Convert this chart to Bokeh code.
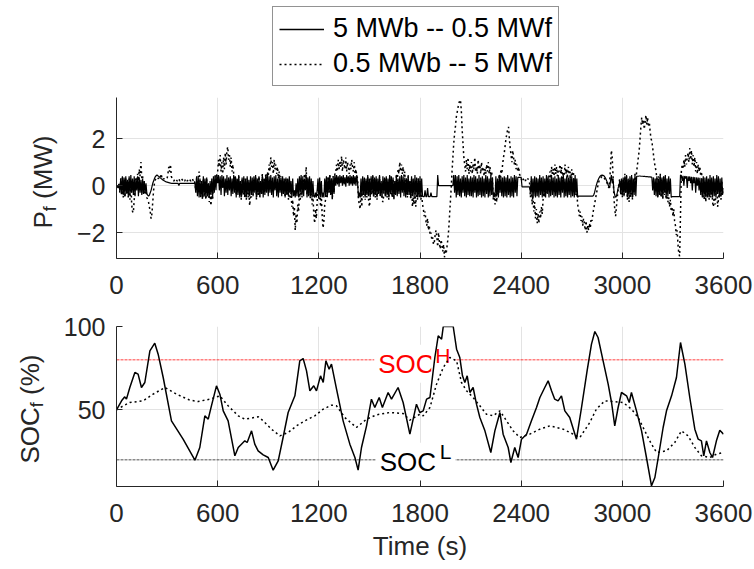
import math
from bokeh.plotting import figure
from bokeh.models import Range1d, FixedTicker, Legend, LegendItem, Label, Span
from bokeh.layouts import column, row
from bokeh.embed import file_html
from bokeh.resources import INLINE

# ---------------- data ----------------
time_s = list(range(0, 3601, 5))

# P_f (MW), battery "5 MWb -- 0.5 MWf" (solid)
pf_5mwb = [
    0, -0.05, -0.1, 0.05, -0.25, 0.3, -0.35, 0.4, -0.4, 0.35, -0.45, 0.4, -0.3, 0.25, -0.45, 0.4, -0.35, 0.45, -0.3, 0.3,
    -0.4, 0.4, -0.45, 0.3, -0.2, 0.4, -0.45, 0.35, -0.3, 0.25, -0.4, 0.3, -0.35, 0.2, -0.3, 0.1, -0.35, -0.4, -0.45, -0.4,
    -0.3, -0.2, -0.05, 0.1, 0.2, 0.3, 0.38, 0.42, 0.45, 0.42, 0.4, 0.37, 0.33, 0.3, 0.27, 0.24, 0.22, 0.2, 0.18, 0.16,
    0.15, 0.14, 0.13, 0.12, 0.11, 0.1, 0.1, 0.1, 0.1, 0.1, 0.1, 0.1, 0.1, 0.1, 0.0, 0.1, 0.1, 0.1, 0.1, 0.1,
    0.1, 0.1, 0.1, 0.1, 0.1, 0.1, 0.1, 0.1, 0.1, 0.1, 0.1, 0.1, 0.1, 0.1, -0.3, 0.4, -0.45, 0.35, -0.5, 0.3,
    -0.45, 0.2, -0.5, 0.4, -0.4, 0.3, -0.5, 0.35, -0.45, 0.1, -0.5, 0.2, -0.4, 0.3, -0.5, 0.4, -0.3, 0.45, -0.2, 0.45,
    0.1, 0.45, -0.2, 0.4, -0.4, 0.45, -0.1, 0.4, -0.45, 0.3, -0.3, 0.45, -0.4, 0.35, -0.2, 0.4, -0.45, 0.3, -0.35, 0.45,
    -0.3, 0.4, -0.5, 0.3, -0.4, 0.45, -0.45, 0.2, -0.5, 0.35, -0.3, 0.4, -0.45, 0.3, -0.5, 0.4, -0.35, 0.25, -0.45, 0.4,
    -0.4, 0.35, -0.45, 0.4, -0.3, 0.45, -0.5, 0.3, -0.4, 0.4, -0.45, 0.2, -0.35, 0.45, -0.5, 0.3, -0.4, 0.4, -0.3, 0.45,
    -0.45, 0.4, -0.3, 0.45, -0.4, 0.35, -0.5, 0.4, -0.2, 0.45, -0.45, 0.3, -0.5, 0.4, -0.3, 0.35, -0.45, 0.4, -0.35, 0.3,
    -0.5, 0.35, -0.4, 0.3, -0.45, 0.4, -0.3, 0.2, -0.5, 0.3, -0.45, -0.2, -0.5, 0.1, -0.45, 0.3, -0.5, 0.4, -0.3, 0.45,
    -0.4, 0.4, -0.45, 0.3, -0.2, 0.45, -0.5, 0.35, -0.4, 0.4, -0.45, 0.3, -0.5, 0.2, -0.45, -0.5, -0.3, -0.5, -0.2, 0.3,
    -0.45, 0.35, -0.5, 0.2, -0.5, -0.3, -0.5, 0.3, -0.4, 0.4, -0.45, 0.35, -0.3, 0.45, -0.4, 0.3, -0.5, 0.4, -0.35, 0.45,
    0.0, 0.45, 0.05, 0.4, -0.05, 0.45, 0.1, 0.4, 0.0, 0.45, 0.05, 0.35, -0.05, 0.45, 0.1, 0.4, 0.0, 0.45, 0.05, 0.4,
    0.0, 0.45, 0.05, 0.4, 0.0, 0.45, 0.1, -0.5, -0.3, -0.5, 0.3, -0.45, 0.4, -0.4, 0.35, -0.5, 0.3, -0.4, 0.45, -0.45,
    0.3, -0.5, 0.4, -0.3, 0.45, -0.45, 0.35, -0.4, 0.4, -0.5, 0.3, -0.35, 0.45, -0.45, 0.2, -0.5, 0.4, -0.3, 0.35, -0.45,
    0.4, -0.4, 0.3, -0.5, 0.45, -0.3, 0.4, -0.45, 0.35, -0.5, 0.2, -0.4, 0.45, -0.45, 0.3, -0.35, 0.4, -0.5, 0.45, -0.3,
    0.4, -0.45, 0.35, -0.5, 0.3, -0.4, 0.45, -0.35, 0.2, -0.5, 0.4, -0.45, 0.3, -0.5, 0.45, -0.4, 0.35, -0.5, 0.3, -0.45,
    0.4, -0.5, 0.3, -0.45, -0.47, -0.47, -0.2, -0.47, -0.47, -0.1, -0.47, -0.47, -0.47, -0.3, -0.47, -0.47, -0.47, -0.47, -0.47, -0.47,
    -0.47, 0.45, 0, 0, 0, 0, 0, 0, 0, 0, 0, 0, 0, 0, 0, 0, 0, 0, 0, 0,
    0.45, -0.3, 0.45, -0.5, 0.4, -0.4, 0.45, -0.45, 0.3, -0.5, 0.4, -0.3, 0.45, -0.45, 0.35, -0.5, 0.45, -0.4, 0.3, -0.45,
    0.4, -0.45, 0.35, -0.5, 0.45, -0.3, 0.4, -0.5, 0.3, -0.45, 0.45, -0.4, 0.35, -0.5, 0.4, -0.45, 0.3, -0.5, 0.45, -0.35,
    0.4, -0.5, 0.3, -0.45, 0.45, -0.4, 0.35, -0.5, -0.3, -0.5, 0.4, -0.45, 0.3, -0.5, 0.45, -0.3, 0.4, -0.45, 0.35, -0.5,
    0.4, -0.45, 0.35, -0.5, 0.45, -0.4, 0.3, -0.5, 0.4, -0.45, 0.35, -0.5, 0.45, -0.3, 0.4, -0.45, 0.35, 0.35, 0.35, 0.35,
    0.35, -0.05, -0.05, -0.05, -0.05, -0.05, -0.05, -0.05, -0.05, -0.05, -0.05, -0.3, 0.4, -0.5, 0.3, -0.45, 0.4, -0.5, 0.35, -0.45,
    0.3, -0.5, 0.45, -0.4, 0.35, -0.5, 0.4, -0.45, 0.3, -0.5, 0.45, -0.35, 0.4, -0.5, 0.3, -0.45, 0.45, -0.4, 0.35, -0.5,
    0.4, -0.45, 0.3, -0.5, 0.45, -0.4, 0.35, -0.5, 0.4, -0.3, 0.45, -0.5, 0.3, -0.45, 0.4, -0.5, 0.35, -0.4, 0.45, -0.5,
    0.4, -0.45, 0.3, -0.5, 0.45, -0.4, 0.3, -0.5, -0.45, -0.45, -0.45, -0.45, -0.45, -0.45, -0.45, -0.45, -0.45, -0.45, -0.45, -0.45,
    -0.45, -0.45, -0.45, -0.45, -0.45, -0.45, -0.4, -0.3, -0.15, 0.0, 0.12, 0.22, 0.3, 0.37, 0.41, 0.44, 0.45, 0.44, 0.42, 0.38,
    0.32, 0.24, 0.15, 0.05, -0.05, -0.1, 0.2, 0.45, 0.1, 0.3, -0.2, -0.4, -0.5, -0.45, -0.3, -0.1, 0.0, 0.2, -0.3, 0.3,
    -0.4, 0.35, -0.45, 0.4, -0.3, 0.45, -0.5, 0.3, -0.45, 0.4, -0.35, 0.45, -0.5, 0.3, -0.4, 0.45, -0.45, 0.4, 0.4, 0.4,
    0.41, 0.41, 0.4, 0.4, 0.4, 0.39, 0.39, 0.39, 0.38, 0.38, 0.38, 0.37, 0.37, 0.37, 0.36, 0.36, -0.2, 0.35, -0.4, 0.3,
    -0.45, 0.4, -0.5, 0.3, -0.4, 0.45, -0.45, 0.35, -0.5, 0.4, -0.3, 0.45, -0.5, 0.3, -0.45, 0.4, -0.35, 0.3, -0.5, -0.47,
    -0.47, -0.47, -0.47, -0.47, -0.47, -0.47, -0.47, -0.47, -0.47, 0.45, 0.43, 0.2, 0.42, 0.0, 0.41, 0.3, 0.4, -0.1, 0.4, 0.2,
    0.39, 0.1, 0.38, -0.2, 0.37, 0.1, 0.36, -0.3, 0.35, 0.0, 0.34, -0.2, 0.33, -0.4, 0.3, -0.5, 0.4, -0.45, 0.35, -0.5,
    0.4, -0.45, 0.3, -0.5, 0.45, -0.4, 0.35, -0.5, 0.4, -0.45, 0.3, -0.5, 0.45, -0.35, 0.4, -0.5, 0.3, -0.45, 0.35, -0.4,
    -0.1,
]

# P_f (MW), battery "0.5 MWb -- 5 MWf" (dotted)
pf_05mwb = [
    0, -0.05, -0.1, 0.1, -0.3, 0.3, -0.4, 0.35, -0.5, 0.3, -0.5, 0.3, -0.35, 0.2, -0.5, 0.3, -0.6, 0.2, -0.8, -1.1,
    -1.15, -0.6, -0.2, 0.3, 0.1, 0.5, 0.2, 0.7, 0.4, 1.0, 0.3, 0.4, -0.3, -0.2, -0.4, -0.1, -0.5, -0.6, -0.7, -0.9,
    -1.1, -1.4, -1.2, -0.7, -0.2, 0.1, 0.25, 0.3, 0.35, 0.3, 0.32, 0.3, 0.28, 0.5, 0.3, 0.25, 0.3, 0.28, 0.3, 0.3,
    0.3, 0.5, 0.8, 0.6, 0.9, 0.4, 0.3, 0.25, 0.2, 0.25, 0.3, 0.25, 0.2, 0.25, 0.3, 0.2, 0.25, 0.3, 0.25, 0.2,
    0.25, 0.2, 0.3, 0.25, 0.2, 0.25, 0.3, 0.25, 0.2, 0.25, 0.3, 0.2, 0.25, 0.1, -0.2, 0.3, -0.3, 0.4, 0.6, 0.2,
    -0.5, 0.1, -0.6, 0.3, -0.5, 0.2, -0.6, 0.3, -0.5, 0.1, -0.7, -0.3, -0.85, -0.4, -0.6, 0.3, -0.2, 0.4, 0.1, 0.5,
    0.6, 1.1, 0.8, 1.3, 0.6, 1.0, 0.5, 1.2, 0.7, 1.4, 0.9, 1.5, 1.65, 1.1, 1.3, 0.8, 1.2, 0.6, 0.9, 0.5,
    0.2, 0.4, -0.4, 0.3, -0.3, 0.4, -0.5, 0.1, -0.6, 0.3, -0.4, 0.3, -0.5, 0.2, -0.6, 0.3, -0.5, -0.3, -0.85, -0.4,
    -0.5, 0.2, -0.4, 0.3, -0.2, 0.4, -0.6, 0.3, -0.4, 0.4, -0.5, 0.2, -0.3, 0.5, -0.4, 0.3, -0.3, 0.5, 0.2, 0.6,
    0.4, 0.9, 0.6, 1.2, 0.8, 1.0, 0.5, 1.1, 0.7, 0.9, 0.5, 0.8, 0.3, 0.6, 0.2, 0.4, -0.3, 0.3, -0.4, 0.2,
    -0.5, 0.3, -0.4, 0.2, -0.6, 0.3, -0.5, -0.3, -0.9, -0.6, -1.3, -0.9, -1.9, -1.2, -1.6, -0.8, -1.1, -0.3, -0.6, 0.3,
    -0.5, 0.3, 0.1, 0.5, 0.3, 0.8, -0.4, 0.3, -0.5, 0.2, -0.6, 0.1, -0.8, -0.4, -1.2, -1.6, -1.0, -1.4, -0.7, 0.1,
    -0.6, 0.2, -0.9, -0.5, -1.3, -1.8, -1.5, -0.8, -0.6, 0.3, -0.5, 0.4, -0.3, 0.5, -0.4, 0.3, -0.6, 0.4, -0.3, 0.5,
    0.5, 0.9, 0.6, 1.1, 0.7, 1.0, 0.8, 1.25, 0.6, 1.1, 0.9, 0.7, 1.2, 0.6, 1.0, 0.8, 0.5, 0.9, 0.7, 1.1,
    0.8, 0.6, 1.0, 0.5, 0.7, 0.4, 0.3, -0.6, -0.8, -1.0, -0.3, -0.9, 0.2, -0.5, 0.3, -0.6, 0.2, -0.5, 0.4, -0.6,
    -0.9, -0.5, 0.3, -0.4, 0.4, -0.5, 0.3, -0.5, 0.3, -0.6, 0.2, -0.4, 0.4, -0.5, 0.1, -0.6, -0.7, -0.4, 0.3, -0.5,
    0.3, -0.5, 0.2, -0.6, 0.4, -0.4, 0.3, -0.5, 0.3, -0.6, 0.1, -0.4, 0.5, 0.2, 0.7, 0.5, 1.0, 0.6, 0.9, 0.5,
    0.8, 0.4, 0.6, -0.4, 0.3, -0.5, 0.4, -0.4, 0.2, -0.6, 0.3, -0.9, -0.5, -0.8, -0.3, -0.9, 0.2, -0.6, 0.3, -0.5,
    0.2, -0.6, -0.4, -0.8, -1.0, -1.3, -1.1, -1.5, -1.7, -1.4, -1.9, -1.7, -2.1, -2.0, -2.3, -2.2, -2.5, -2.4, -2.1, -1.9,
    -2.2, -2.6, -2.0, -2.4, -2.7, -2.3, -2.5, -2.8, -2.5, -3.05, -2.7, -2.9, -2.6, -2.3, -1.9, -1.3, -0.7, -0.1, 0.6, 1.2,
    1.8, 2.2, 2.5, 2.9, 3.1, 3.3, 3.5, 3.6, 3.65, 3.2, 2.4, 1.8, 1.2, 0.9, 0.6, 1.1, 0.7, 1.2, 0.5, 0.9,
    0.6, 1.0, 0.5, 0.9, 0.7, 1.2, 0.6, 0.8, 0.5, 1.1, 0.7, 0.9, 0.5, 1.0, 0.6, 0.8, 0.4, 0.7, 0.5, 0.9,
    0.6, 1.0, 0.5, 0.8, 0.4, 0.6, 0.2, -0.6, -0.4, -0.8, -0.3, -0.7, 0.2, -0.4, 0.5, 0.3, 0.7, 0.5, 0.9, 1.2,
    1.4, 1.7, 2.0, 2.2, 2.4, 2.5, 2.0, 1.6, 1.3, 1.0, 1.5, 1.2, 0.9, 1.1, 0.7, 0.9, 0.6, 0.8, 0.5, 0.4,
    0.3, 0.2, 0.3, 0.25, 0.3, 0.2, 0.3, 0.25, 0.3, 0.2, 0.1, -0.5, 0.2, -0.8, -0.4, -1.1, -0.7, -1.4, -1.0, -1.6,
    -1.2, -1.6, -1.1, -1.4, -0.9, -1.2, -0.6, -0.3, -0.5, 0.2, -0.3, 0.3, -0.2, 0.4, 0.6, 0.3, 0.8, 0.5, 0.7, 0.4,
    0.9, 0.5, 0.8, 0.4, 0.7, 0.6, 0.9, 0.5, 0.8, 0.3, 0.6, 0.4, 0.9, 0.5, 0.7, 0.3, 0.8, 0.5, 0.6, 0.2,
    0.7, 0.4, 0.6, -0.2, 0.3, -0.4, -0.3, -0.8, -1.0, -1.3, -1.1, -1.5, -1.3, -1.7, -1.4, -1.6, -1.9, -1.5, -2.0, -1.7,
    -1.9, -1.6, -1.8, -1.4, -1.5, -1.2, -1.0, -0.8, -0.6, -0.4, -0.2, 0.0, 0.15, 0.25, 0.3, 0.35, 0.4, 0.4, 0.35, 0.3,
    0.25, 0.2, 0.1, 0.0, -0.1, 0.2, 0.8, 1.5, 1.2, 0.4, -0.5, -1.0, -1.3, -0.9, -0.5, -0.2, 0.1, 0.3, -0.4, 0.2,
    -0.5, 0.3, -0.4, 0.5, -0.3, 0.4, -0.6, 0.2, -0.7, 0.3, -0.5, 0.4, -0.6, 0.3, -0.3, 0.5, 0.2, 0.6, 0.9, 1.2,
    1.5, 2.0, 2.5, 2.9, 2.6, 2.8, 2.4, 2.7, 3.0, 2.6, 2.9, 2.5, 2.7, 2.3, 2.0, 1.9, 1.6, 1.3, 1.0, 0.8,
    0.6, 0.3, -0.5, 0.4, -0.4, 0.5, -0.5, 0.3, -0.6, 0.4, -0.4, 0.3, -0.6, -0.3, -0.7, -0.5, -0.9, -0.6, -1.1, -0.9,
    -1.3, -1.0, -1.5, -1.7, -2.1, -1.9, -2.5, -2.9, -3.0, -1.2, 0.6, 0.9, 0.7, 1.1, 0.8, 1.3, 0.9, 1.2, 1.4, 1.0,
    1.6, 1.1, 1.5, 0.9, 1.3, 0.8, 1.2, 0.6, 1.0, 0.5, 0.9, 0.6, 0.8, 0.4, 0.6, -0.5, 0.3, -0.6, 0.2, -0.7,
    0.3, -0.5, 0.2, -0.6, 0.3, -0.5, 0.2, -0.7, -0.9, -0.5, -0.8, -0.4, 0.2, -0.9, -0.6, -0.3, 0.1, -0.6, 0.2, -0.4,
    -0.2,
]

# SOC_f (%), "5 MWb -- 0.5 MWf" (solid)
soc_5mwb_time = [0, 30, 49, 59, 79, 109, 128, 148, 168, 198, 227, 247, 277, 326, 395, 465, 494, 524, 544, 563,
                 593, 613, 633, 662, 702, 722, 741, 761, 775, 801, 820, 840, 870, 900, 929, 959, 988, 1018, 1058, 1087,
                 1107, 1127, 1147, 1170, 1186, 1210, 1226, 1242, 1261, 1275, 1305, 1344, 1384, 1414, 1433, 1453, 1483, 1512, 1532, 1558,
                 1577, 1611, 1631, 1670, 1700, 1740, 1779, 1799, 1819, 1839, 1859, 1888, 1908, 1928, 1938, 1997, 2017, 2036, 2052, 2066,
                 2080, 2096, 2115, 2135, 2155, 2185, 2220, 2244, 2274, 2293, 2323, 2339, 2362, 2382, 2402, 2432, 2461, 2491, 2511, 2540,
                 2560, 2580, 2599, 2619, 2639, 2659, 2688, 2728, 2758, 2791, 2817, 2837, 2856, 2886, 2916, 2936, 2955, 2975, 2995, 3025,
                 3041, 3054, 3084, 3114, 3143, 3173, 3193, 3213, 3242, 3262, 3292, 3321, 3345, 3371, 3400, 3430, 3450, 3469, 3483, 3499,
                 3519, 3535, 3558, 3578, 3600]
soc_5mwb = [50, 55.4, 57.8, 56.4, 63.4, 72.4, 71.4, 63.4, 66.4, 85.4, 90, 83.4, 69.4, 43.4, 32.4, 19.8, 27.4, 46.4, 44.4, 52.4,
            64.4, 59.4, 49.4, 43.4, 22.4, 27.4, 29.4, 31.4, 30.4, 37.4, 29.4, 25.4, 23, 21.4, 13.8, 19.4, 33.4, 48.4, 58.4, 79.4,
            80.8, 73.4, 61.4, 64.4, 61.4, 70.4, 66.4, 79.4, 74.4, 77.4, 62.4, 43.4, 29.4, 21.4, 13.8, 27.4, 40.4, 56.4, 51.4, 57.4,
            51.4, 60.4, 56.4, 63.4, 54.4, 35.4, 53.4, 48.4, 49.4, 56.4, 57.4, 81.4, 94.4, 92.4, 100, 100, 86.4, 81.4, 70.4, 66.4,
            70.4, 60.4, 63.4, 53.4, 45.4, 37.4, 24.4, 37.4, 48.4, 35.4, 27.4, 18.4, 27.4, 21.4, 32.4, 35.4, 43.4, 51.4, 57.4, 63.4,
            67.4, 61.4, 56.4, 55.4, 58.4, 49.4, 45.4, 32.4, 51.4, 73.4, 89.4, 97, 93.4, 79.4, 65.4, 54.4, 40.4, 51.4, 60.4, 58.4,
            54.4, 60.4, 49.4, 37.4, 21.4, 4.4, 9.4, 21.4, 39.4, 49.4, 58.4, 69.4, 90.4, 77.4, 57.4, 38.4, 32.4, 31.4, 22.4, 31.4,
            24.4, 21.4, 31.4, 37.8, 35.4]

# SOC_f (%), "0.5 MWb -- 5 MWf" (dotted)
soc_05mwb_time = [0, 40, 79, 158, 217, 287, 356, 435, 484, 554, 613, 662, 722, 761, 841, 870, 919, 969, 1018, 1068,
                  1117, 1176, 1226, 1275, 1305, 1354, 1423, 1483, 1542, 1621, 1700, 1740, 1799, 1819, 1859, 1898, 1938, 1977, 2017, 2046,
                  2076, 2115, 2155, 2194, 2234, 2274, 2313, 2352, 2392, 2451, 2511, 2570, 2649, 2708, 2748, 2807, 2846, 2896, 2945, 3005,
                  3054, 3094, 3133, 3173, 3203, 3262, 3311, 3351, 3390, 3430, 3469, 3519, 3558, 3600]
soc_05mwb = [50, 52.4, 54.4, 55.4, 59.4, 63.4, 59.4, 55.8, 55, 56.4, 58.4, 52.4, 46.4, 44.4, 45.8, 43.4, 38.4, 34.4, 36.4, 40.4,
             43.4, 46.4, 50.4, 52.8, 52.4, 45.4, 39.4, 44.4, 47, 48.4, 47.8, 43.8, 47.4, 46.4, 51.4, 65.4, 75.4, 81.4, 79.4, 66.4,
             61.4, 57.4, 52.4, 47.4, 46.4, 49.4, 43.4, 37.4, 33.4, 35.4, 38.4, 40.4, 38.4, 35.4, 33.4, 42.4, 50.4, 55.4, 55, 54.4,
             50.4, 45.4, 37.4, 29.4, 24.4, 25.4, 30.4, 37.4, 34.4, 27.4, 22.4, 21.4, 23.4, 24.4]

series_labels = ["5 MWb -- 0.5 MWf", "0.5 MWb -- 5 MWf"]
time_ticks = [0, 600, 1200, 1800, 2400, 3000, 3600]
pf_ticks = [-2, 0, 2]
soc_ticks = [50, 100]
SOC_H = 80
SOC_L = 20

assert len(pf_5mwb) == len(time_s), len(pf_5mwb)
assert len(pf_05mwb) == len(time_s), len(pf_05mwb)
assert len(soc_5mwb) == len(soc_5mwb_time), (len(soc_5mwb), len(soc_5mwb_time))
assert len(soc_05mwb) == len(soc_05mwb_time), (len(soc_05mwb), len(soc_05mwb_time))

# ---------------- style ----------------
FONT = "Liberation Sans"
TXT = "#262626"
AX = "#262626"
GRID = "#e3e3e3"
DOT = "2 3"
LAB_W = 60          # width of the strip that holds the y-axis titles
BL = 113 - LAB_W    # remaining left border of the plots


def style(p, yticks):
    p.xaxis.ticker = FixedTicker(ticks=time_ticks)
    p.yaxis.ticker = FixedTicker(ticks=yticks)
    for ax in (p.xaxis[0], p.yaxis[0]):
        ax.major_tick_in = 6
        ax.major_tick_out = 0
        ax.minor_tick_line_color = None
        ax.axis_line_color = AX
        ax.axis_line_width = 1
        ax.major_tick_line_color = AX
        ax.major_label_text_font = FONT
        ax.major_label_text_color = TXT
    p.xaxis.major_label_text_font_size = "26px"
    p.yaxis.major_label_text_font_size = "25px"
    p.xaxis.major_label_standoff = 17
    p.yaxis.major_label_standoff = 11
    p.grid.grid_line_color = GRID
    p.grid.grid_line_width = 1
    p.outline_line_color = None
    p.background_fill_color = "white"
    p.border_fill_color = "white"


# ---------------- strip with the y-axis titles ----------------
lab = figure(width=LAB_W, height=569, output_backend="svg", toolbar_location=None,
             x_range=Range1d(0, LAB_W), y_range=Range1d(569, 0), min_border=0,
             x_axis_location=None, y_axis_location=None)
lab.grid.visible = False
lab.outline_line_color = None
for txt, x, y, size in [("P", 42, 228, "26px"), ("f", 49, 210.7, "18px"), ("(MW)", 42, 198.5, "26px"),
                        ("SOC", 29, 463, "26px"), ("f", 36, 406.7, "18px"), ("(%)", 29, 394.5, "26px")]:
    lab.add_layout(Label(x=x, y=y, text=txt, angle=math.pi / 2, text_align="left",
                         text_baseline="alphabetic", text_font=FONT, text_font_size=size,
                         text_color=TXT))

# ---------------- legend strip ----------------
p0 = figure(frame_width=607, height=90, output_backend="svg", toolbar_location=None,
            x_range=Range1d(0, 1), y_range=Range1d(0, 1), min_border=0,
            min_border_left=BL, min_border_right=34,
            x_axis_location=None, y_axis_location=None)
p0.grid.visible = False
p0.outline_line_color = None
# legend keys: same series, lying outside this strip's ranges, so only the key is seen
k_a = p0.line(soc_5mwb_time, soc_5mwb, line_color="black", line_width=1.5)
k_b = p0.line(soc_05mwb_time, soc_05mwb, line_color="black", line_width=1.5, line_dash=DOT)
legend = Legend(items=[LegendItem(label=series_labels[0], renderers=[k_a]),
                       LegendItem(label=series_labels[1], renderers=[k_b])],
                location=(156, 4), orientation="vertical",
                label_text_font=FONT, label_text_font_size="27px", label_text_color="black",
                glyph_width=45, glyph_height=30, label_height=30, spacing=4, padding=6,
                margin=0, label_standoff=9,
                border_line_color=AX, border_line_width=1,
                background_fill_color="white", background_fill_alpha=1.0)
p0.add_layout(legend)

# ---------------- top: P_f ----------------
p1 = figure(frame_width=607, frame_height=161, output_backend="svg", toolbar_location=None,
            x_range=Range1d(0, 3600), y_range=Range1d(-3.1, 3.75),
            min_border_left=BL, min_border_right=34, min_border_top=7, min_border_bottom=48)
style(p1, pf_ticks)
p1.line(time_s, pf_05mwb, line_color="black", line_width=1.5, line_dash=DOT)
p1.line(time_s, pf_5mwb, line_color="black", line_width=1.2)

# ---------------- bottom: SOC_f ----------------
p2 = figure(frame_width=607, frame_height=160, output_backend="svg", toolbar_location=None,
            x_range=Range1d(0, 3600), y_range=Range1d(4, 100),
            min_border_left=BL, min_border_right=34, min_border_top=20, min_border_bottom=83)
style(p2, soc_ticks)
p2.xaxis.axis_label = "Time (s)"
p2.xaxis.axis_label_text_font = FONT
p2.xaxis.axis_label_text_font_size = "26px"
p2.xaxis.axis_label_text_font_style = "normal"
p2.xaxis.axis_label_text_color = TXT
p2.xaxis.axis_label_standoff = 6

p2.add_layout(Span(location=SOC_H, dimension="width", line_color="red", line_width=1,
                   line_alpha=0.75, line_dash="3 1", level="underlay"))
p2.add_layout(Span(location=SOC_L, dimension="width", line_color="#333333", line_width=1,
                   line_alpha=0.85, line_dash="3 1", level="underlay"))

for txt, xo, yo, size, col, xd, yd in [
    ("SOC", -8, 11, "26px", "red", 1576, 71),
    ("H", 49, 19, "21px", "red", 1576, 71),
    ("SOC", -9, 10, "26px", "black", 1591, 12.8),
    ("L", 51, 20, "21px", "black", 1591, 12.8),
]:
    p2.add_layout(Label(x=xd, y=yd, x_offset=xo, y_offset=yo, text=txt, text_font=FONT,
                        text_font_size=size, text_color=col, text_align="left",
                        text_baseline="alphabetic", background_fill_color="white",
                        padding=4, level="underlay"))

p2.line(soc_05mwb_time, soc_05mwb, line_color="black", line_width=1.5, line_dash=DOT)
p2.line(soc_5mwb_time, soc_5mwb, line_color="black", line_width=1.5)

layout = row(lab, column(p0, p1, p2, spacing=0), spacing=0)
open("out.html", "w").write(file_html(layout, INLINE))
